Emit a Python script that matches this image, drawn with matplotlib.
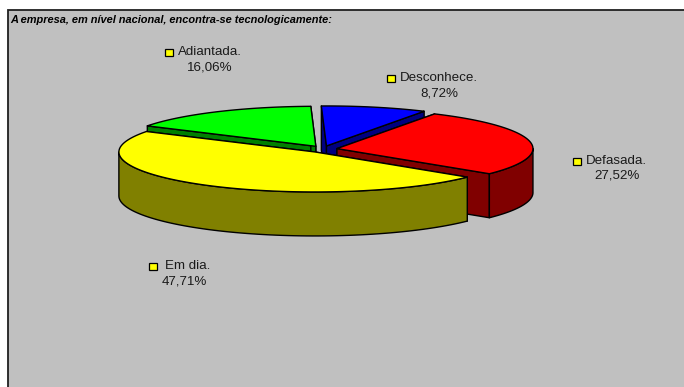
import numpy as np
import matplotlib
matplotlib.use("Agg")
import matplotlib.pyplot as plt
from matplotlib.patches import Polygon, Rectangle

# data
labels = ["Desconhece.", "Defasada.", "Em dia.", "Adiantada."]
shares = [8.72, 27.52, 47.71, 16.06]
share_text = ["8,72%", "27,52%", "47,71%", "16,06%"]
title = "A empresa, em nível nacional, encontra-se tecnologicamente:"

# style / layout (pixels)
top_colors = ["#0000FF", "#FF0000", "#FFFF00", "#00FF00"]
side_colors = ["#000080", "#800000", "#808000", "#008000"]
BG = "#C0C0C0"
CX, CY = 323.0, 149.2
RX, RY = 196.0, 40.0
DEPTH = 44.0
EXPLODE_X, EXPLODE_Y = 14.2, 3.35
START = 91.5
label_xy = [(438.5, 78), (616, 161), (187.5, 266), (210, 52)]
pct_xy = [(439, 93), (617.5, 176), (184.5, 281), (210, 67)]
key_xy = [(390.5, 78), (577, 161), (153, 266.5), (169, 52)]

plt.rcParams["font.family"] = ["Liberation Sans", "DejaVu Sans"]

fig = plt.figure(figsize=(6.84, 3.87), dpi=100, facecolor="white")
ax = fig.add_axes([0, 0, 1, 1])
ax.set_xlim(0, 684)
ax.set_ylim(387, 0)
ax.axis("off")

# chart area, runs off the right and bottom of the picture
ax.add_patch(Rectangle((7.5, 9.5), 690, 400, fc=BG, ec="#202020", lw=1.3, zorder=0))


def rim(cx, cy, a0, a1, n=80):
    t = np.radians(np.linspace(a0, a1, n))
    return cx + RX * np.cos(t), cy - RY * np.sin(t)


def poly(xs, ys, color, z):
    ax.add_patch(Polygon(np.column_stack([xs, ys]), closed=True, fc=color,
                         ec="black", lw=1.0, joinstyle="round", zorder=z))


# slice angles go clockwise from START
ends = START - np.cumsum(shares) * 3.6
begins = np.concatenate([[START], ends[:-1]])

# back slices first so the front ones cover them
for z, i in enumerate([3, 0, 1, 2]):
    a0, a1 = begins[i], ends[i]
    mid = np.radians((a0 + a1) / 2)
    cx = CX + EXPLODE_X * np.cos(mid)
    cy = CY - EXPLODE_Y * np.sin(mid)
    base = 10 + z * 5

    # cut faces
    for a in (a0, a1):
        ex, ey = rim(cx, cy, a, a, 1)
        poly([cx, ex[0], ex[0], cx], [cy, ey[0], ey[0] + DEPTH, cy + DEPTH],
             side_colors[i], base)

    # outer wall, lower half of the rim only
    lo = max(a1, -180)
    hi = min(a0, 0)
    if hi > lo:
        wx, wy = rim(cx, cy, hi, lo)
        poly(np.r_[wx, wx[::-1]], np.r_[wy, wy[::-1] + DEPTH], side_colors[i], base + 1)

    # top
    tx, ty = rim(cx, cy, a0, a1)
    poly(np.r_[cx, tx], np.r_[cy, ty], top_colors[i], base + 2)

# labels
for i in range(4):
    ax.text(*label_xy[i], labels[i], ha="center", va="center", fontsize=9.6,
            color="#1a1a1a", zorder=50)
    ax.text(*pct_xy[i], share_text[i], ha="center", va="center", fontsize=9.6,
            color="#1a1a1a", zorder=50)
    ax.add_patch(Rectangle((key_xy[i][0] - 4, key_xy[i][1] - 3.5), 8, 7, fc="#FFFF00",
                           ec="black", lw=0.9, zorder=50))

ax.text(10, 20, title, ha="left", va="center", fontsize=7.9, fontweight="bold",
        fontstyle="italic", color="black", zorder=50)

fig.savefig("out.png", dpi=100, facecolor="white")
